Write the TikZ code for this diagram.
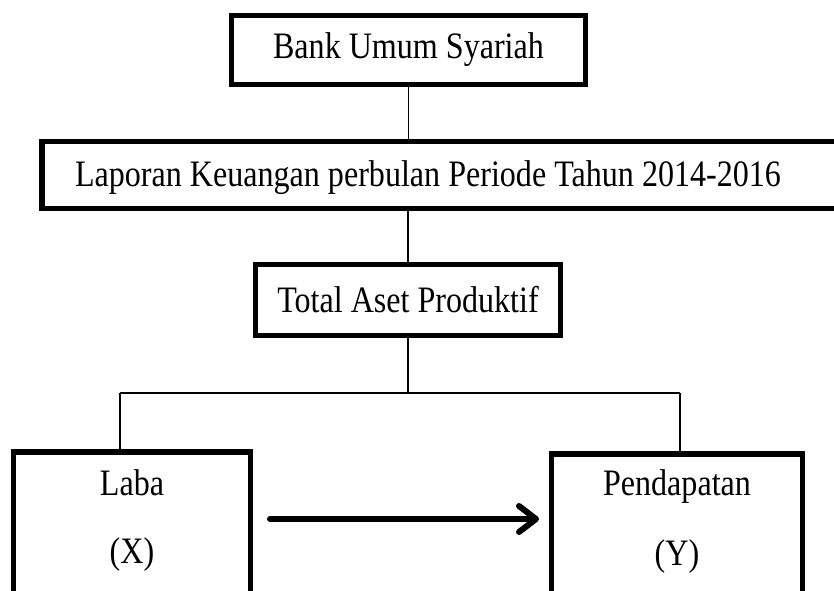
\documentclass[tikz,border=0pt]{standalone}
\usepackage{fontspec}
\setmainfont{Liberation Serif}[FakeStretch=0.86]
\usetikzlibrary{arrows.meta,positioning}
\tikzset{
 ka box/.style={draw=black,line width=5.5pt,fill=white,inner sep=0pt,outer sep=0pt},
 ka link/.style={line width=1.3pt},
 ka arrow/.style={line width=6pt,line cap=round,
   -{Straight Barb[length=17pt,width=26pt,line width=6pt,round]}},
 ka text/.style={font=\fontsize{37.3}{44}\selectfont,inner sep=0pt}
}
\begin{document}
\begin{tikzpicture}[x=1pt,y=-1pt]
 \useasboundingbox (0,0) rectangle (834,590);
 \clip (0,0) rectangle (834,590);

 \node[ka box,ka text,minimum width=354pt,minimum height=69pt] (bus) at (408.5,50) {Bank Umum Syariah};
 \node[ka box,ka text,minimum width=818pt,minimum height=67pt] (lap) at (451,175) {};
 \node[ka text] (lapT) at (428,178) {Laporan Keuangan perbulan Periode Tahun 2014-2016};
 \node[ka box,ka text,minimum width=305pt,minimum height=71pt] (tap) at (408,300) {Total Aset Produktif};

 \node[ka box,minimum width=237pt,minimum height=200pt] (laba) at (132,552) {};
 \node[ka box,minimum width=251pt,minimum height=200pt] (pend) at (677,554) {};
 \node[ka text] (labaT) at (132,483) {Laba};
 \node[ka text] (labaX) at (132,555) {(X)};
 \node[ka text] (pendT) at (677,487) {Pendapatan};
 \node[ka text] (pendY) at (677,557) {(Y)};

 \coordinate (splitL) at (120,393);
 \coordinate (splitR) at (680,393);
 \coordinate (arrA) at (270,519);
 \coordinate (arrB) at (539,519);

 \draw[ka link] (bus.south) -- (bus.south |- lap.north);
 \draw[ka link] (tap.north) -- (tap.north |- lap.south);
 \draw[ka link] (tap.south) -- (tap.south |- splitL);
 \draw[ka link] (splitL) -- (splitR);
 \draw[ka link] (splitL) -- (splitL |- laba.north);
 \draw[ka link] (splitR) -- (splitR |- pend.north);
 \draw[ka arrow] (arrA) -- (arrB);
\end{tikzpicture}
\end{document}
